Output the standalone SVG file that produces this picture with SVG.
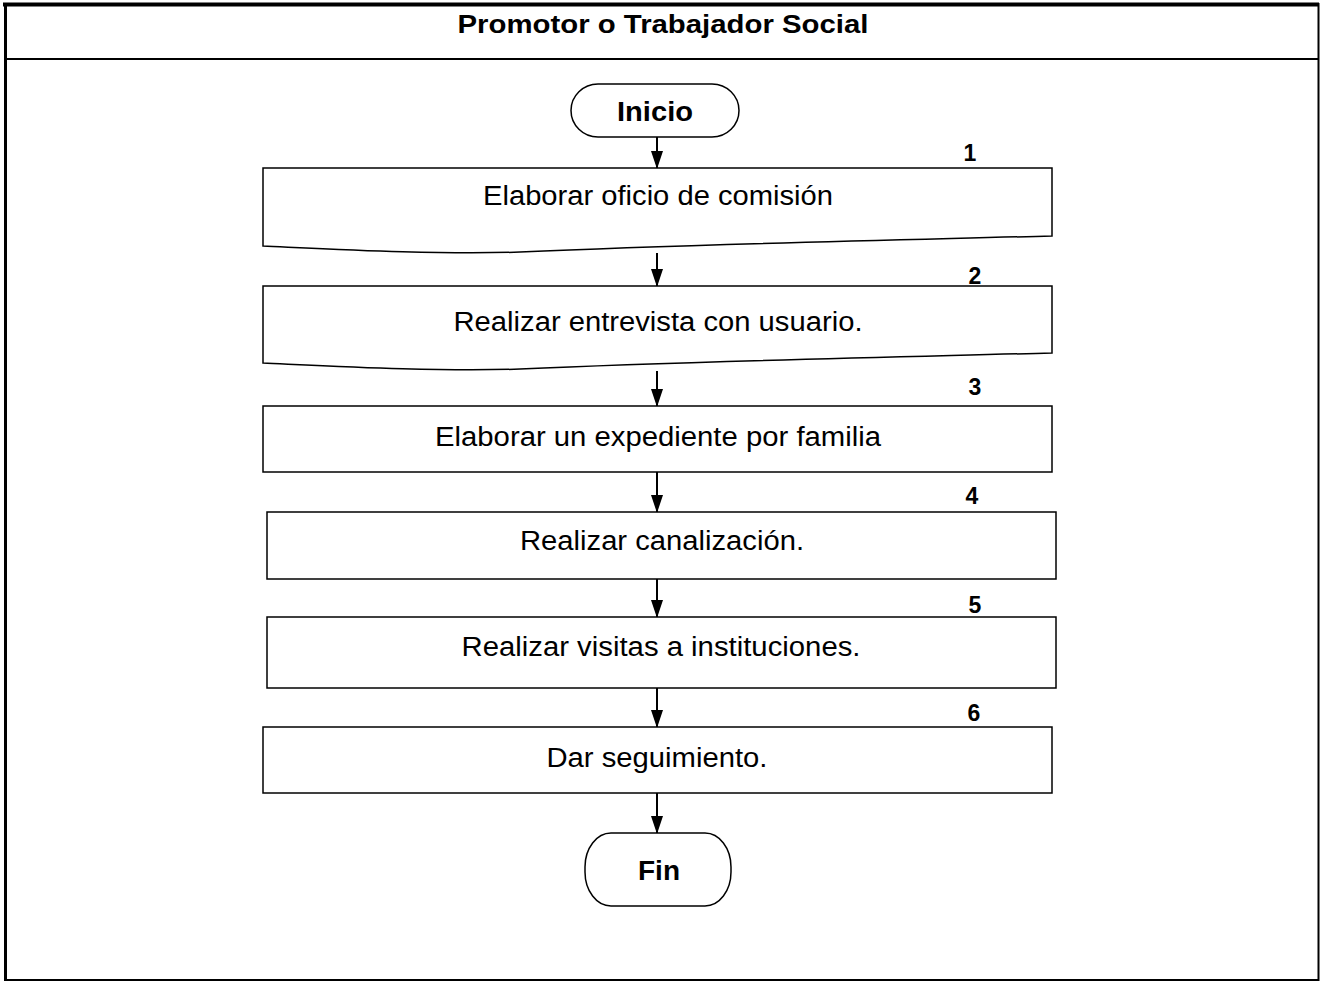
<svg xmlns="http://www.w3.org/2000/svg" width="1321" height="982" viewBox="0 0 1321 982">
<style>
.frame{fill:none;stroke:#000}
.box{fill:#fff;stroke:#000;stroke-width:1.5}
.term{fill:#fff;stroke:#000;stroke-width:1.5}
.t{font-family:"Liberation Sans",Arial,sans-serif;font-size:27px;fill:#000;text-anchor:middle}
.b{font-family:"Liberation Sans",Arial,sans-serif;font-weight:bold;fill:#000;text-anchor:middle}
.n{font-family:"Liberation Sans",Arial,sans-serif;font-weight:bold;font-size:23px;fill:#000;text-anchor:middle}
.c{stroke:#000;stroke-width:2;fill:none;marker-end:url(#ah)}
</style>
<defs>
<marker id="ah" viewBox="0 0 18 12" refX="17" refY="6" markerWidth="18" markerHeight="12" markerUnits="userSpaceOnUse" orient="auto">
<path d="M0,0 L18,6 L0,12 Z" fill="#000"/>
</marker>
</defs>
<rect width="1321" height="982" fill="#fff"/>
<g id="frame">
<line class="frame" x1="3" y1="4.5" x2="1319" y2="4.5" stroke-width="4"/>
<line class="frame" x1="5.5" y1="3" x2="5.5" y2="981" stroke-width="3"/>
<line class="frame" x1="1318.5" y1="3" x2="1318.5" y2="981" stroke-width="2"/>
<line class="frame" x1="4" y1="980" x2="1319" y2="980" stroke-width="2"/>
<line class="frame" x1="4" y1="59" x2="1319" y2="59" stroke-width="2"/>
<text class="b" x="663" y="33" font-size="26" textLength="411" lengthAdjust="spacingAndGlyphs">Promotor o Trabajador Social</text>
</g>
<g id="connectors">
<line class="c" x1="657" y1="137" x2="657" y2="168"/>
<line class="c" x1="657" y1="253" x2="657" y2="286"/>
<line class="c" x1="657" y1="371" x2="657" y2="406"/>
<line class="c" x1="657" y1="472" x2="657" y2="512"/>
<line class="c" x1="657" y1="579" x2="657" y2="617"/>
<line class="c" x1="657" y1="688" x2="657" y2="727"/>
<line class="c" x1="657" y1="793" x2="657" y2="833"/>
</g>
<g id="inicio">
<rect class="term" x="571" y="84" width="168" height="53" rx="27" ry="26.5"/>
<text class="b" x="655" y="121" font-size="28" textLength="76" lengthAdjust="spacingAndGlyphs">Inicio</text>
</g>
<g id="step1">
<path class="box" d="M263,168 H1052 V236 C900,240 700,244 520,252 C440,255 330,249 263,246 Z"/>
<text class="n" x="970" y="161">1</text>
<text class="t" x="658" y="205" textLength="350" lengthAdjust="spacingAndGlyphs">Elaborar oficio de comisión</text>
</g>
<g id="step2">
<path class="box" d="M263,286 H1052 V353 C900,357 700,361 520,369 C440,372 330,366 263,363 Z"/>
<text class="n" x="975" y="284">2</text>
<text class="t" x="658" y="331" textLength="409" lengthAdjust="spacingAndGlyphs">Realizar entrevista con usuario.</text>
</g>
<g id="step3">
<rect class="box" x="263" y="406" width="789" height="66"/>
<text class="n" x="975" y="395">3</text>
<text class="t" x="658" y="446" textLength="446" lengthAdjust="spacingAndGlyphs">Elaborar un expediente por familia</text>
</g>
<g id="step4">
<rect class="box" x="267" y="512" width="789" height="67" stroke-width="2.5"/>
<text class="n" x="972" y="504">4</text>
<text class="t" x="662" y="550" textLength="284" lengthAdjust="spacingAndGlyphs">Realizar canalización.</text>
</g>
<g id="step5">
<rect class="box" x="267" y="617" width="789" height="71"/>
<text class="n" x="975" y="613">5</text>
<text class="t" x="661" y="656" textLength="399" lengthAdjust="spacingAndGlyphs">Realizar visitas a instituciones.</text>
</g>
<g id="step6">
<rect class="box" x="263" y="727" width="789" height="66"/>
<text class="n" x="974" y="721">6</text>
<text class="t" x="657" y="767" textLength="221" lengthAdjust="spacingAndGlyphs">Dar seguimiento.</text>
</g>
<g id="fin">
<rect class="term" x="585" y="833" width="146" height="73" rx="26" ry="34"/>
<text class="b" x="659" y="880" font-size="28" textLength="42" lengthAdjust="spacingAndGlyphs">Fin</text>
</g>
</svg>
